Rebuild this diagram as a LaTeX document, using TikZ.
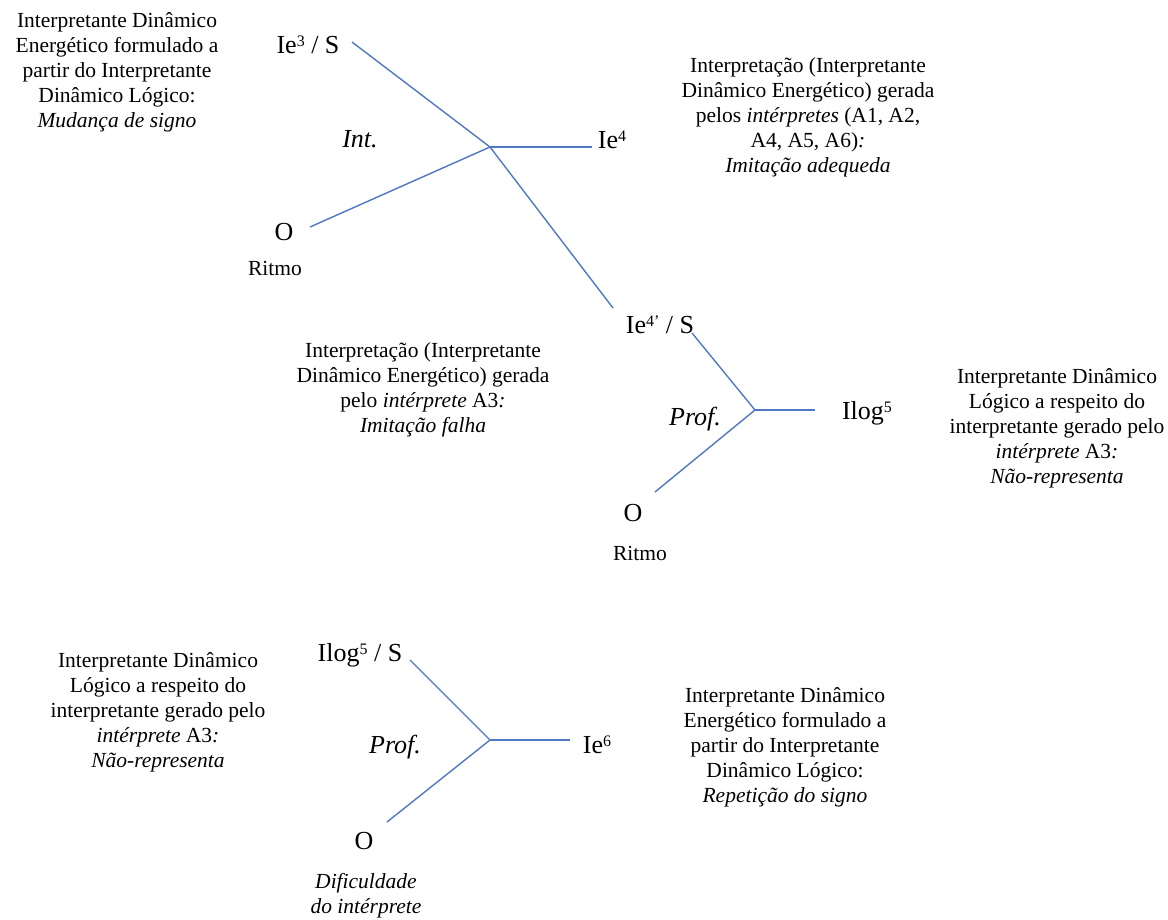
\documentclass[tikz,border=0pt]{standalone}
\usepackage{fontspec}
\setmainfont{Liberation Serif}
\definecolor{lineblue}{RGB}{79,121,196}
\newcommand\mysup[1]{\raisebox{6.5pt}{\fontsize{16}{16}\selectfont #1}}
\begin{document}
\begin{tikzpicture}[x=1pt,y=-1pt,
  desc/.style={align=center,inner sep=0pt,font=\fontsize{21.5}{25}\selectfont},
  lab/.style={inner sep=0pt,font=\fontsize{26}{30}\selectfont},
  small/.style={inner sep=0pt,font=\fontsize{21.5}{25}\selectfont,align=center},
  conn/.style={draw=lineblue,line width=1.4pt}]
\useasboundingbox[fill=white] (0,0) rectangle (1168,919);

% ---------- diagram 1 ----------
\node[desc] (d1) at (117,72) {Interpretante Dinâmico\\Energético formulado a\\partir do Interpretante\\Dinâmico Lógico:\\\textit{Mudança de signo}};
\node[lab] (ie3) at (308,45) {Ie\mysup{3} / S};
\node[lab] (int) at (360,139) {\textit{Int.}};
\node[lab] (ie4) at (612,140) {Ie\mysup{4}};
\node[lab] (o1) at (284,232) {O};
\node[small] (r1) at (275,268) {Ritmo};
\node[desc] (d2) at (808,117) {Interpretação (Interpretante\\Dinâmico Energético) gerada\\pelos \textit{intérpretes} (A1, A2,\\A4, A5, A6)\textit{:}\\\textit{Imitação adequeda}};
\coordinate (j1) at (490,147);
\coordinate (e1a) at (352,42);
\coordinate (e1b) at (592,147);
\coordinate (e1c) at (310,227);
\coordinate (e1d) at (613,308);
\draw[conn] (e1a) -- (j1);
\draw[conn] (j1) -- (e1b);
\draw[conn] (j1) -- (e1c);
\draw[conn] (j1) -- (e1d);

% ---------- diagram 2 ----------
\node[lab] (ie4p) at (660,325) {Ie\mysup{4’} / S};
\node[desc] (d3) at (423,390) {Interpretação (Interpretante\\Dinâmico Energético) gerada\\pelo \textit{intérprete} A3\textit{:}\\\textit{Imitação falha}};
\node[lab] (prof1) at (695,419) {\textit{Prof.}};
\node[lab] (ilog5) at (867,413) {Ilog\mysup{5}};
\node[desc] (d4) at (1057,428) {Interpretante Dinâmico\\Lógico a respeito do\\interpretante gerado pelo\\\textit{intérprete} A3\textit{:}\\\textit{Não-representa}};
\node[lab] (o2) at (633,513) {O};
\node[small] (r2) at (640,553) {Ritmo};
\coordinate (j2) at (755,410);
\coordinate (e2a) at (692,333);
\coordinate (e2b) at (815,410);
\coordinate (e2c) at (655,492);
\draw[conn] (e2a) -- (j2);
\draw[conn] (j2) -- (e2b);
\draw[conn] (j2) -- (e2c);

% ---------- diagram 3 ----------
\node[desc] (d5) at (158,712) {Interpretante Dinâmico\\Lógico a respeito do\\interpretante gerado pelo\\\textit{intérprete} A3\textit{:}\\\textit{Não-representa}};
\node[lab] (ilog5s) at (360,655) {Ilog\mysup{5} / S};
\node[lab] (prof2) at (395,747) {\textit{Prof.}};
\node[lab] (ie6) at (597,745) {Ie\mysup{6}};
\node[desc] (d6) at (785,747) {Interpretante Dinâmico\\Energético formulado a\\partir do Interpretante\\Dinâmico Lógico:\\\textit{Repetição do signo}};
\node[lab] (o3) at (364,841) {O};
\node[small] (dif) at (366,896) {\textit{Dificuldade}\\\textit{do intérprete}};
\coordinate (j3) at (490,740);
\coordinate (e3a) at (410,660);
\coordinate (e3b) at (570,740);
\coordinate (e3c) at (387,822);
\draw[conn] (e3a) -- (j3);
\draw[conn] (j3) -- (e3b);
\draw[conn] (j3) -- (e3c);
\end{tikzpicture}
\end{document}
